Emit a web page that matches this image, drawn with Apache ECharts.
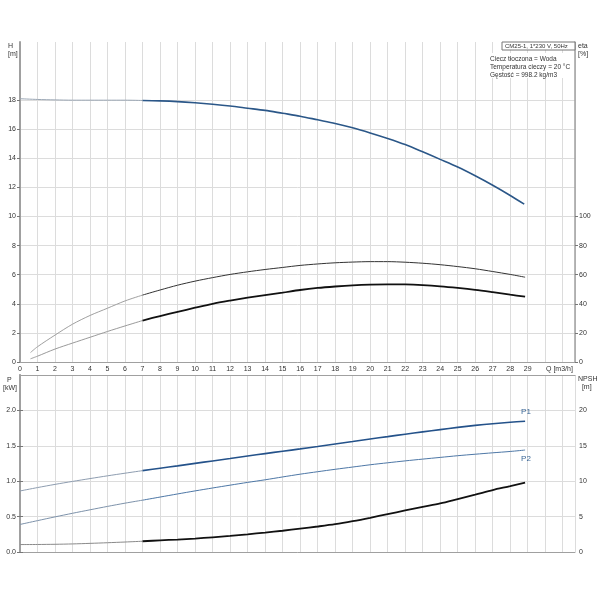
<!DOCTYPE html>
<html>
<head>
<meta charset="utf-8">
<script src="https://cdn.jsdelivr.net/npm/echarts@6/dist/echarts.min.js"></script>
<style>
  html, body { margin: 0; padding: 0; background: #fff; }
  #chart { width: 600px; height: 600px; }
</style>
</head>
<body>
<div id="chart"></div>
<script>
// Krzywe pompy CM25-1
const qH = [0, 1, 2, 3, 4, 5, 6, 7, 8, 9, 10, 11, 12, 13, 14, 15, 16, 17, 18, 19, 20, 21, 22, 23, 24, 25, 26, 27, 28, 28.8]
const head = [18.1, 18.05, 18.02, 18.0, 18.0, 18.0, 18.0, 17.98, 17.95, 17.9, 17.82, 17.72, 17.6, 17.45, 17.3, 17.1, 16.9, 16.65, 16.4, 16.1, 15.75, 15.37, 14.95, 14.45, 13.93, 13.4, 12.8, 12.15, 11.45, 10.85]

const qEta = [0.6, 1, 2, 3, 4, 5, 6, 7, 8, 9, 10, 11, 12, 13, 14, 15, 16, 17, 18, 19, 20, 21, 22, 23, 24, 25, 26, 27, 28, 28.85]
const etaPump = [6.5, 10.5, 18.5, 26, 32, 37, 42, 46, 49.5, 52.8, 55.6, 58, 60.2, 62, 63.6, 65, 66.4, 67.4, 68.2, 68.7, 69, 69, 68.6, 67.9, 66.9, 65.6, 64.1, 62.2, 60.2, 58.3]
const etaTotal = [2.2, 4, 8.9, 13, 17, 21, 24.8, 28.5, 31.6, 34.5, 37.3, 40, 42.2, 44.2, 46, 47.7, 49.5, 50.9, 51.9, 52.7, 53.2, 53.4, 53.3, 52.8, 52, 50.9, 49.6, 48, 46.3, 44.9]

const qP = [0, 1, 2, 3, 4, 5, 6, 7, 8, 9, 10, 11, 12, 13, 14, 15, 16, 17, 18, 19, 20, 21, 22, 23, 24, 25, 26, 27, 28, 28.85]
const p1 = [0.862, 0.91, 0.955, 0.997, 1.037, 1.076, 1.113, 1.149, 1.183, 1.217, 1.252, 1.286, 1.32, 1.355, 1.39, 1.423, 1.456, 1.49, 1.525, 1.56, 1.597, 1.63, 1.664, 1.697, 1.729, 1.76, 1.788, 1.812, 1.832, 1.847]
const p2 = [0.389, 0.443, 0.496, 0.547, 0.596, 0.644, 0.69, 0.732, 0.776, 0.82, 0.863, 0.904, 0.944, 0.983, 1.02, 1.06, 1.099, 1.134, 1.168, 1.2, 1.232, 1.26, 1.287, 1.312, 1.336, 1.36, 1.381, 1.401, 1.42, 1.44]
const npsh = [1.05, 1.06, 1.09, 1.14, 1.22, 1.31, 1.41, 1.52, 1.64, 1.76, 1.9, 2.08, 2.28, 2.5, 2.74, 3.0, 3.3, 3.6, 3.93, 4.35, 4.83, 5.35, 5.87, 6.38, 6.87, 7.48, 8.1, 8.75, 9.3, 9.8]

// opisane wartości osi
const qTicks = [0, 1, 2, 3, 4, 5, 6, 7, 8, 9, 10, 11, 12, 13, 14, 15, 16, 17, 18, 19, 20, 21, 22, 23, 24, 25, 26, 27, 28, 29]
const hTicks = [0, 2, 4, 6, 8, 10, 12, 14, 16, 18]
const etaTicks = [0, 20, 40, 60, 80, 100]
const pTicks = [0, 0.5, 1.0, 1.5, 2.0]
const npshTicks = [0, 5, 10, 15, 20]

// punkt od którego krzywa jest rysowana grubą linią
const qSplit = 7

const font = 'Liberation Sans, Arial, sans-serif'
const txt = '#333'
const gridColor = '#dcdcdc'
const axisColor = '#a0a0a0'

function pairs(xs, ys, from, to) {
    const out = []
    xs.forEach((x, i) => {
        if (x >= from && x <= to) out.push([x, ys[i]])
    })
    return out
}

// cienki odcinek + gruby odcinek tej samej krzywej
function curve(xs, ys, xi, yi, thinColor, thickColor, thickWidth, extra) {
    return [
        {
            type: 'line', xAxisIndex: xi, yAxisIndex: yi, showSymbol: false, smooth: 0.3,
            silent: true, data: pairs(xs, ys, -1, qSplit),
            lineStyle: { color: thinColor, width: 1 }
        },
        Object.assign({
            type: 'line', xAxisIndex: xi, yAxisIndex: yi, showSymbol: false, smooth: 0.3,
            silent: true, data: pairs(xs, ys, qSplit, 99),
            lineStyle: { color: thickColor, width: thickWidth }
        }, extra || {})
    ]
}

const labelStyle = { color: txt, fontSize: 7, fontFamily: font }

function xAxis(grid, showLabels, position) {
    return {
        type: 'value', gridIndex: grid, min: 0, max: 31.7, interval: 1, position: position,
        axisLine: { show: true, onZero: false, lineStyle: { color: axisColor, width: 1 } },
        axisTick: { show: false },
        axisLabel: Object.assign({ show: showLabels, margin: 4, customValues: qTicks }, labelStyle),
        splitLine: { show: position !== 'top', lineStyle: { color: gridColor, width: 1 } }
    }
}

function yAxis(grid, position, max, interval, ticks, fmt, lineW) {
    return {
        type: 'value', gridIndex: grid, position: position, min: 0, max: max, interval: interval,
        axisLine: { show: true, lineStyle: { color: axisColor, width: lineW } },
        axisTick: { show: true, length: 3, customValues: ticks, lineStyle: { color: '#777' } },
        axisLabel: Object.assign({ margin: 4, customValues: ticks, formatter: fmt }, labelStyle),
        splitLine: { show: position === 'left', lineStyle: { color: gridColor, width: 1 } }
    }
}

const chart = echarts.init(document.getElementById('chart'))

const series = [].concat(
    curve(qH, head, 0, 0, '#9aa6b4', '#2b5788', 1.6),
    curve(qEta, etaPump, 0, 1, '#a0a0a0', '#333', 1),
    curve(qEta, etaTotal, 0, 1, '#9a9a9a', '#111', 1.8),
    curve(qP, p1, 1, 2, '#8e9db0', '#24528a', 1.6, {
        endLabel: { show: true, formatter: 'P1', color: '#3a6797', fontSize: 8, fontFamily: font, offset: [-12, -9] }
    }),
    curve(qP, p2, 1, 2, '#7d92aa', '#4d77a6', 1, {
        endLabel: { show: true, formatter: 'P2', color: '#3a6797', fontSize: 8, fontFamily: font, offset: [-12, 9] }
    }),
    curve(qP, npsh, 1, 3, '#8a8a8a', '#111', 1.8)
)

chart.setOption({
    animation: false,
    backgroundColor: '#fff',
    grid: [
        { left: 20, right: 25, top: 42, height: 320 },
        { left: 20, right: 25, top: 375, height: 177 }
    ],
    xAxis: [
        xAxis(0, true, 'bottom'),
        xAxis(1, false, 'bottom'),
        xAxis(1, false, 'top')
    ],
    yAxis: [
        yAxis(0, 'left', 22, 2, hTicks, (v) => String(v), 2),
        yAxis(0, 'right', 220, 20, etaTicks, (v) => String(v), 1.5),
        yAxis(1, 'left', 2.5, 0.5, pTicks, (v) => v.toFixed(1), 2),
        yAxis(1, 'right', 25, 5, npshTicks, (v) => String(v), 1.5)
    ],
    series: series,
    graphic: [
        { type: 'text', z: 100, left: 8, top: 42, style: { text: 'H\n[m]', fill: txt, font: '7px ' + font, align: 'center', lineHeight: 8 } },
        { type: 'text', z: 100, left: 578, top: 42, style: { text: 'eta\n[%]', fill: txt, font: '7px ' + font, lineHeight: 8 } },
        { type: 'text', z: 100, left: 3, top: 376, style: { text: '  P\n[kW]', fill: txt, font: '7px ' + font, lineHeight: 8 } },
        { type: 'text', z: 100, left: 578, top: 375, style: { text: 'NPSH\n  [m]', fill: txt, font: '7px ' + font, lineHeight: 8 } },
        { type: 'text', z: 100, left: 546, top: 366, style: { text: 'Q [m3/h]', fill: txt, font: '7px ' + font } },
        {
            type: 'rect', z: 90, shape: { x: 502, y: 42, width: 73, height: 8 },
            style: { fill: '#fff', stroke: '#777', lineWidth: 1 }
        },
        { type: 'text', z: 100, left: 505, top: 43, style: { text: 'CM25-1, 1*230 V, 50Hz', fill: txt, font: '6px ' + font } },
        {
            type: 'rect', z: 90, shape: { x: 487, y: 53, width: 87, height: 25 },
            style: { fill: '#fff' }
        },
        {
            type: 'text', z: 100, left: 490, top: 55,
            style: { text: 'Ciecz tłoczona = Woda\nTemperatura cieczy = 20 °C\nGęstość = 998.2 kg/m3', fill: txt, font: '6.5px ' + font, lineHeight: 8 }
        }
    ]
})
</script>
</body>
</html>
